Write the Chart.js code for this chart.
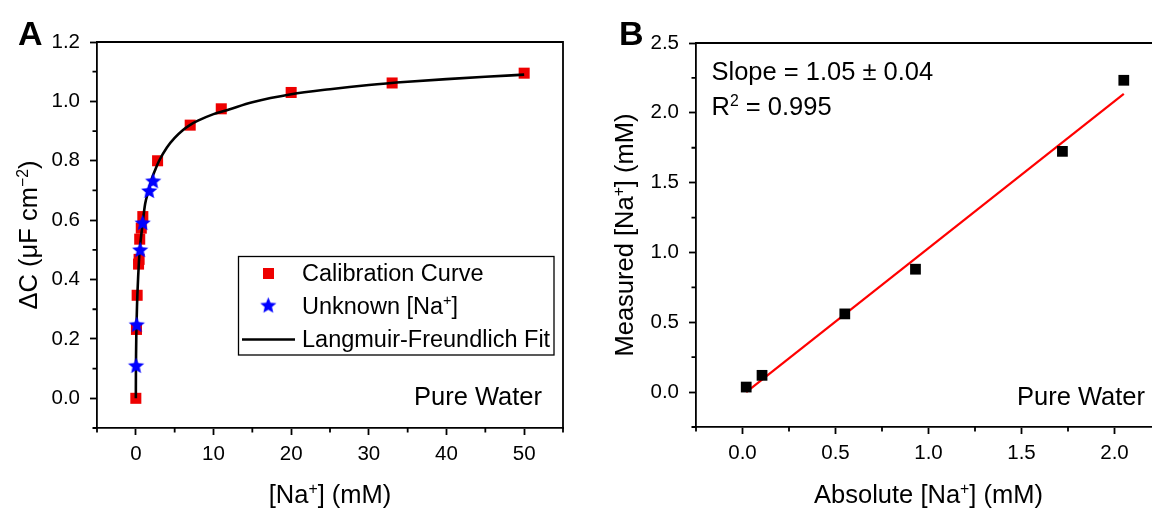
<!DOCTYPE html>
<html><head><meta charset="utf-8">
<script src="https://cdn.jsdelivr.net/npm/chart.js@4.4.1/dist/chart.umd.min.js"></script>
<style>
html,body{margin:0;padding:0;background:#fff;width:1152px;height:508px;overflow:hidden;}
#wrap{position:relative;width:1152px;height:508px;overflow:hidden;background:#fff;}
.box{position:absolute;top:0;}
</style></head><body>
<div id="wrap">
<div class="box" style="left:0;width:600px;height:508px"><canvas id="ca" width="600" height="508"></canvas></div>
<div class="box" style="left:600px;width:580px;height:508px"><canvas id="cb" width="580" height="508"></canvas></div>
</div>
<script>
// ---------- Panel A data ----------
const calibX = [0, 0.08, 0.17, 0.35, 0.42, 0.5, 0.7, 0.9, 2.8, 7, 11, 20, 33, 50];
const calibY = [0, 0.232, 0.347, 0.452, 0.468, 0.536, 0.573, 0.612, 0.80, 0.92, 0.975, 1.03, 1.062, 1.095];
const unknownX = [0.036, 0.12, 0.56, 0.88, 1.72, 2.23];
const unknownY = [0.111, 0.249, 0.501, 0.592, 0.700, 0.733];
const fitX = [0, 0.01, 0.03, 0.06, 0.1, 0.15, 0.2, 0.3, 0.4, 0.5, 0.7, 0.9, 1.2, 1.6, 2.0, 2.5, 3, 4, 5, 6, 7, 8, 10, 12, 15, 20, 25, 30, 35, 40, 45, 50];
const fitY = [0, 0.08, 0.15, 0.21, 0.26, 0.31, 0.35, 0.41, 0.46, 0.50, 0.55, 0.595, 0.655, 0.695, 0.735, 0.77, 0.80, 0.845, 0.877, 0.902, 0.921, 0.935, 0.957, 0.973, 0.997, 1.024, 1.041, 1.055, 1.066, 1.075, 1.083, 1.09];
const xMajorA = [0, 10, 20, 30, 40, 50];
const xMinorA = [-5, 5, 15, 25, 35, 45, 55];
const yMajorA = [0, 0.2, 0.4, 0.6, 0.8, 1.0, 1.2];
const yMinorA = [-0.1, 0.1, 0.3, 0.5, 0.7, 0.9, 1.1];

// ---------- Panel B data ----------
const absX = [0.02, 0.105, 0.55, 0.93, 1.72, 2.05];
const measY = [0.036, 0.12, 0.56, 0.88, 1.724, 2.233];
const linFitX = [0.02, 2.05];
const linFitY = [0.0, 2.135];
const xMajorB = [0, 0.5, 1.0, 1.5, 2.0];
const xMinorB = [-0.25, 0.25, 0.75, 1.25, 1.75, 2.25];
const yMajorB = [0, 0.5, 1.0, 1.5, 2.0, 2.5];
const yMinorB = [-0.25, 0.25, 0.75, 1.25, 1.75, 2.25];

const FONT = "'Liberation Sans', Arial, sans-serif";
const TICK_SIZE = 20.5, TITLE_SIZE = 25.5, LEG_SIZE = 23.5;
const AX = '#000', AXW = 1.8;

function pts(xs, ys){ return xs.map((x,i)=>({x:x, y:ys[i]})); }

function makeStar(r, color){
  const s = Math.ceil(r*2+2);
  const c = document.createElement('canvas'); c.width = s; c.height = s;
  const g = c.getContext('2d'); g.fillStyle = color; g.beginPath();
  for (let i=0;i<10;i++){
    const rad = (i%2) ? r*0.45 : r;
    const a = -Math.PI/2 + i*Math.PI/5;
    const px = s/2 + rad*Math.cos(a), py = s/2 + 0.8 + rad*Math.sin(a);
    if (i) g.lineTo(px,py); else g.moveTo(px,py);
  }
  g.closePath(); g.fill();
  return c;
}
const starImg = makeStar(8.5, '#0000ff');

function richWidth(ctx, parts, size){
  let w = 0;
  for (const p of parts){ ctx.font = (p.sup ? size*0.62 : size) + 'px ' + FONT; w += ctx.measureText(p.t).width; }
  return w;
}
function drawRich(ctx, parts, x, y, size, align){
  const w = richWidth(ctx, parts, size);
  let cx = align === 'center' ? x - w/2 : (align === 'right' ? x - w : x);
  ctx.textAlign = 'left'; ctx.textBaseline = 'alphabetic'; ctx.fillStyle = '#000';
  for (const p of parts){
    ctx.font = (p.sup ? size*0.62 : size) + 'px ' + FONT;
    ctx.fillText(p.t, cx, p.sup ? y - size*0.37 : y);
    cx += ctx.measureText(p.t).width;
  }
}

function decorPlugin(cfg){
  return {
    id: 'decor',
    afterDraw(chart){
      const ctx = chart.ctx, a = chart.chartArea;
      const xs = chart.scales.x, ys = chart.scales.y;
      ctx.save();
      ctx.strokeStyle = AX; ctx.lineWidth = AXW; ctx.lineCap = 'square';
      ctx.beginPath(); ctx.moveTo(a.left, a.top); ctx.lineTo(a.right, a.top); ctx.lineTo(a.right, a.bottom); ctx.stroke();
      ctx.lineCap = 'butt';
      ctx.beginPath();
      for (const v of cfg.xMinor){ const p = xs.getPixelForValue(v); ctx.moveTo(p, a.bottom); ctx.lineTo(p, a.bottom + 4.5); }
      for (const v of cfg.yMinor){ const p = ys.getPixelForValue(v); ctx.moveTo(a.left, p); ctx.lineTo(a.left - 4.5, p); }
      ctx.stroke();
      drawRich(ctx, cfg.xTitle, (a.left + a.right)/2, 503, TITLE_SIZE, 'center');
      ctx.save();
      ctx.translate(cfg.yTitleX, (a.top + a.bottom)/2);
      ctx.rotate(-Math.PI/2);
      drawRich(ctx, cfg.yTitle, 0, 0, TITLE_SIZE, 'center');
      ctx.restore();
      ctx.font = 'bold 34px ' + FONT; ctx.fillStyle = '#000'; ctx.textAlign = 'left'; ctx.textBaseline = 'alphabetic';
      ctx.fillText(cfg.letter, cfg.letterX, 45);
      if (cfg.extra) cfg.extra(ctx, chart);
      ctx.restore();
    }
  };
}

function axisOpts(min, max, majors, fmt, isX, size){
  return {
    type: 'linear', min: min, max: max,
    afterBuildTicks: s => { s.ticks = majors.map(v => ({value: v})); },
    afterFit: s => { if (isX) s.height = size; else s.width = size; },
    ticks: { font: {family: FONT, size: TICK_SIZE}, color: '#000', padding: isX ? 7 : 10,
             autoSkip: false, maxRotation: 0, callback: v => fmt(v) },
    grid: { drawOnChartArea: false, drawTicks: true, tickLength: 7, tickWidth: AXW, tickColor: AX },
    border: { display: true, color: AX, width: AXW }
  };
}

// ---------- Chart A ----------
new Chart(document.getElementById('ca'), {
  type: 'scatter',
  data: { datasets: [
    { label: 'Unknown [Na+]', data: pts(unknownX, unknownY), pointStyle: starImg, pointRadius: 8.5, order: 0 },
    { label: 'Langmuir-Freundlich Fit', data: pts(fitX, fitY), showLine: true, pointRadius: 0,
      borderColor: '#000', borderWidth: 2.6, cubicInterpolationMode: 'monotone', order: 1 },
    { label: 'Calibration Curve', data: pts(calibX, calibY), pointStyle: 'rect', pointRadius: 7.8,
      backgroundColor: '#ee0000', borderColor: '#ee0000', borderWidth: 0, order: 2 }
  ]},
  options: {
    responsive: false, animation: false, events: [],
    layout: { padding: { top: 42, right: 37, left: 0, bottom: 0 } },
    plugins: { legend: { display: false }, tooltip: { enabled: false } },
    scales: {
      x: axisOpts(-5, 55, xMajorA, v => String(Math.round(v)), true, 80),
      y: axisOpts(-0.1, 1.2, yMajorA, v => v.toFixed(1), false, 97)
    }
  },
  plugins: [decorPlugin({
    xMinor: xMinorA, yMinor: yMinorA, letter: 'A', letterX: 18, yTitleX: 37,
    xTitle: [{t:'[Na'},{t:'+',sup:true},{t:'] (mM)'}],
    yTitle: [{t:'\u0394C (\u03BCF cm'},{t:'\u22122',sup:true},{t:')'}],
    extra: (ctx) => {
      ctx.strokeStyle = '#000'; ctx.lineWidth = 1.3;
      ctx.strokeRect(238.5, 256.5, 315.5, 98.5);
      ctx.fillStyle = '#ee0000'; ctx.fillRect(263, 268, 11, 11);
      ctx.drawImage(starImg, 268.3 - starImg.width/2, 305 - starImg.height/2);
      ctx.strokeStyle = '#000'; ctx.lineWidth = 2.6;
      ctx.beginPath(); ctx.moveTo(242, 339.5); ctx.lineTo(295, 339.5); ctx.stroke();
      drawRich(ctx, [{t:'Calibration Curve'}], 302, 281, LEG_SIZE, 'left');
      drawRich(ctx, [{t:'Unknown [Na'},{t:'+',sup:true},{t:']'}], 302, 313.5, LEG_SIZE, 'left');
      drawRich(ctx, [{t:'Langmuir-Freundlich Fit'}], 302, 347, LEG_SIZE, 'left');
      drawRich(ctx, [{t:'Pure Water'}], 542, 405, TITLE_SIZE, 'right');
    }
  })]
});

// ---------- Chart B ----------
new Chart(document.getElementById('cb'), {
  type: 'scatter',
  data: { datasets: [
    { label: 'Measured', data: pts(absX, measY), pointStyle: 'rect', pointRadius: 7.6,
      backgroundColor: '#000', borderColor: '#000', borderWidth: 0, order: 0 },
    { label: 'Linear fit', data: pts(linFitX, linFitY), showLine: true, pointRadius: 0,
      borderColor: '#ff0000', borderWidth: 2.2, order: 1 }
  ]},
  options: {
    responsive: false, animation: false, events: [],
    layout: { padding: { top: 43, right: 19, left: 0, bottom: 0 } },
    plugins: { legend: { display: false }, tooltip: { enabled: false } },
    scales: {
      x: axisOpts(-0.25, 2.25, xMajorB, v => v.toFixed(1), true, 81),
      y: axisOpts(-0.25, 2.5, yMajorB, v => v.toFixed(1), false, 96)
    }
  },
  plugins: [decorPlugin({
    xMinor: xMinorB, yMinor: yMinorB, letter: 'B', letterX: 19, yTitleX: 33,
    xTitle: [{t:'Absolute [Na'},{t:'+',sup:true},{t:'] (mM)'}],
    yTitle: [{t:'Measured [Na'},{t:'+',sup:true},{t:'] (mM)'}],
    extra: (ctx) => {
      drawRich(ctx, [{t:'Slope = 1.05 \u00B1 0.04'}], 111.5, 80, TITLE_SIZE, 'left');
      drawRich(ctx, [{t:'R'},{t:'2',sup:true},{t:' = 0.995'}], 111.5, 115, TITLE_SIZE, 'left');
      drawRich(ctx, [{t:'Pure Water'}], 545, 405, TITLE_SIZE, 'right');
    }
  })]
});
</script>
</body></html>
